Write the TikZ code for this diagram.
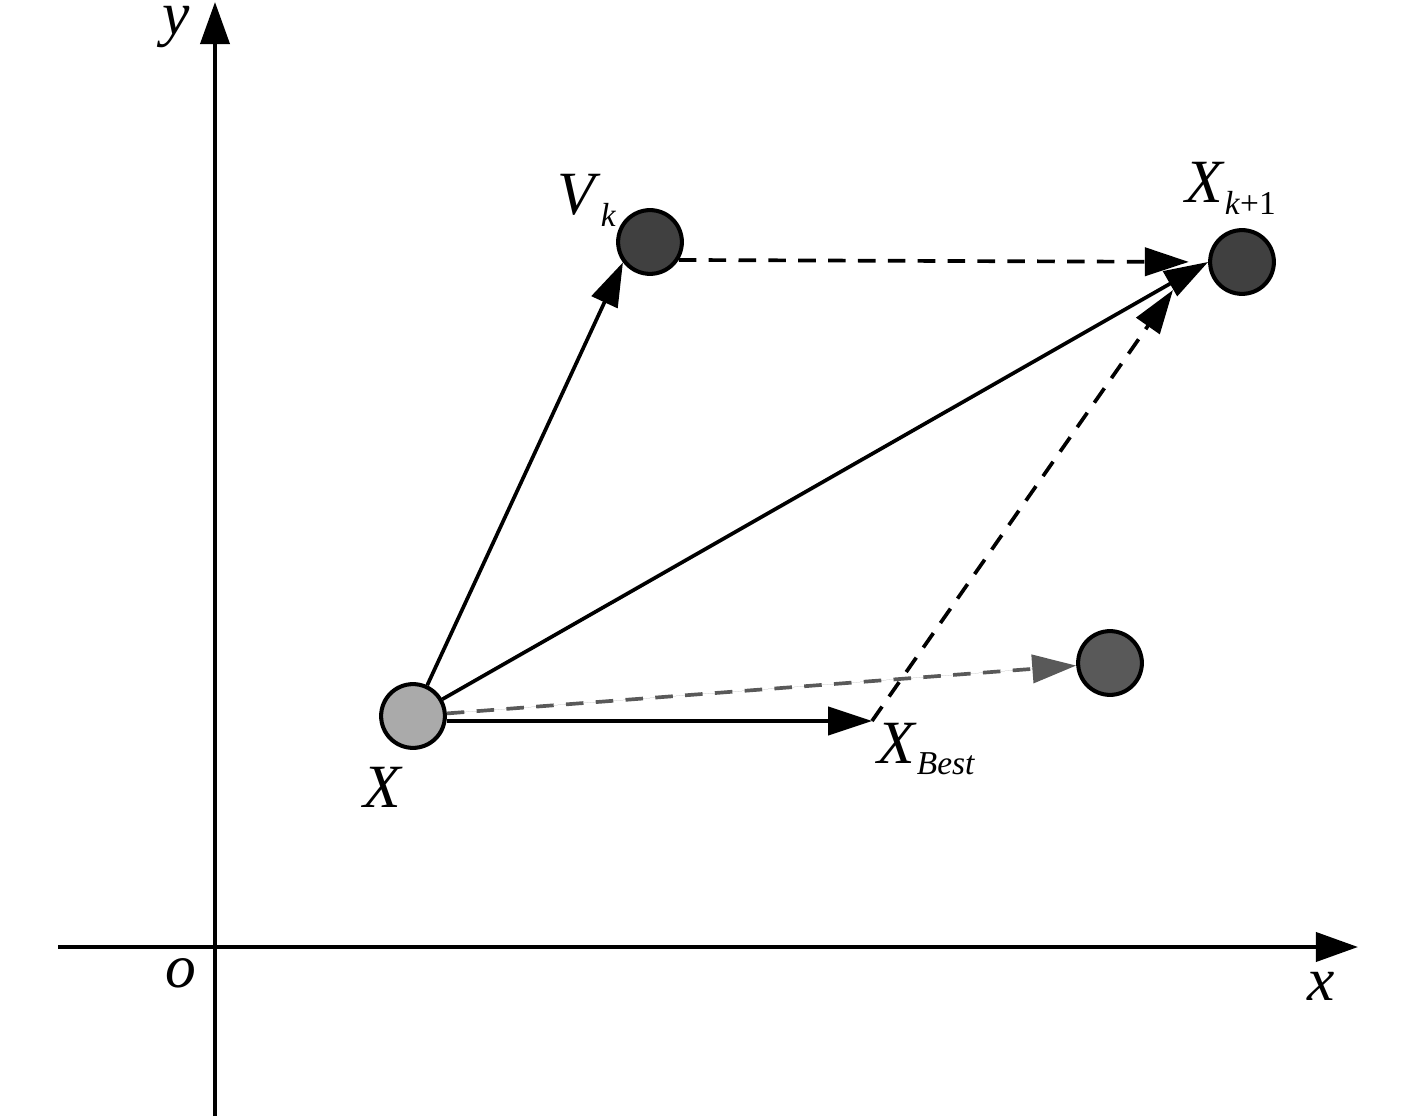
\documentclass[tikz,border=0pt]{standalone}
\usepackage{fontspec}
\setmainfont{Liberation Serif}
\usetikzlibrary{arrows.meta}
\definecolor{lightp}{HTML}{AAAAAA}
\definecolor{darkp}{HTML}{404040}
\definecolor{midp}{HTML}{595959}
\newcommand{\lblsub}[2]{\textit{#1}\raisebox{-6.5pt}{\fontsize{19}{19}\selectfont #2}}
\begin{document}
\begin{tikzpicture}[x=0.02cm,y=-0.02cm,
  axis/.style={line width=2.4pt,-{Triangle[length=24pt,width=16.5pt]}},
  conn/.style={line width=2.1pt,-{Triangle[length=25pt,width=16pt]}},
  dashline/.style={conn,dash pattern=on 10pt off 7pt},
  particle/.style={circle,draw,line width=2.3pt,minimum size=36.3pt,inner sep=0pt},
  lbl/.style={font=\fontsize{35}{40}\selectfont,inner sep=0pt,anchor=base west}]
\useasboundingbox (0,0) rectangle (1417,1118);
% axes
\coordinate (ybot) at (215,1116);
\coordinate (ytop) at (215,2);
\coordinate (xl) at (58,947);
\coordinate (xr) at (1358,947);
\draw[axis] (ybot) -- (ytop);
\draw[axis] (xl) -- (xr);
\node[lbl] (ly) at (162,35) {\textit{y}};
\node[lbl] (lx) at (1307,1000) {\textit{x}};
\node[lbl] (lo) at (165,987) {\textit{o}};
% particles
\node[particle,fill=lightp] (X) at (413,716) {};
\node[particle,fill=darkp] (Vk) at (650,242) {};
\node[particle,fill=darkp] (Xk1) at (1242,262) {};
\node[particle,fill=midp] (O) at (1110,663) {};
\coordinate (XB) at (872,721);
\coordinate (XBtip) at (1173,290);
% connectors
\draw[conn] (X) -- (Vk.217);
\draw[conn] (X) -- (Xk1.west);
\draw[dashline,draw=midp,fill=midp] (X) -- (O);
\draw[conn] (X.east |- XB) -- (XB);
\draw[dashline] (XB) -- (XBtip);
\draw[dashline,shorten >=11pt] (Vk.-32) -- (Xk1.west);
% labels
\node[lbl] (lX) at (363,807) {\textit{X}};
\node[lbl] (lVk) at (557,215) {\lblsub{V}{\textit{k}}};
\node[lbl] (lXk1) at (1185,203) {\lblsub{X}{\textit{k}+1}};
\node[lbl] (lXB) at (877,763) {\lblsub{X}{\textit{Best}}};
\end{tikzpicture}
\end{document}
